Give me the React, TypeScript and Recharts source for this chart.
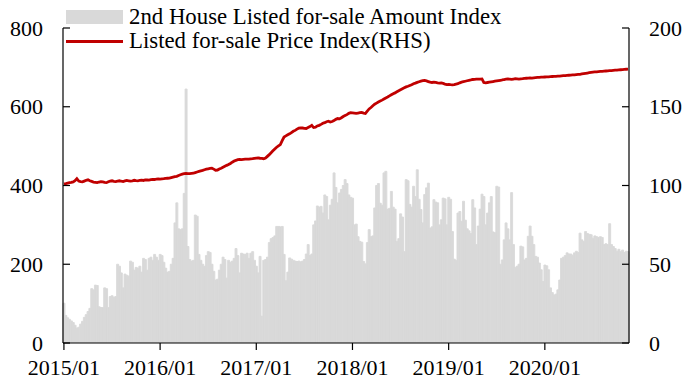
import React from "react";
import { ComposedChart, Bar, Line, XAxis, YAxis, Legend } from "recharts";

const yearTicks = ["2015/01", "2016/01", "2017/01", "2018/01", "2019/01", "2020/01"];
const legendLabels = ["2nd House Listed for-sale Amount Index", "Listed for-sale Price Index(RHS)"];

// weekly 2nd-house listed for-sale amount index (LHS)
const amount2015 = [101,70,64,60,56,52,45,38,40,48,55,65,72,80,88,138,135,147,146,92,90,90,140,138,90,118,120,116,118,200,195,178,140,175,172,170,208,205,185,192,190,195,180,215,212,185,215,218,210,225,218,210];
const amount2016 = [225,222,205,190,180,182,200,215,305,356,290,288,290,380,645,245,212,208,210,325,322,225,210,200,195,222,232,230,200,182,160,162,185,200,218,212,165,210,205,208,215,240,222,178,228,226,225,228,215,228,232,210];
const amount2017 = [195,178,220,68,210,212,218,255,265,268,272,296,296,295,296,225,158,180,216,213,210,208,207,208,206,208,212,226,250,222,226,300,310,348,345,347,330,376,372,313,350,365,432,395,356,381,390,400,415,405,376,370];
const amount2018 = [368,300,302,270,258,256,207,201,255,288,270,272,343,400,405,355,350,432,436,340,342,385,345,340,258,265,328,320,232,415,412,352,345,398,372,440,365,339,305,377,394,406,292,295,364,358,356,300,313,368,366,300];
const amount2019 = [370,365,283,213,210,330,334,309,360,312,290,285,278,364,343,250,297,340,378,372,300,330,356,372,282,280,398,396,200,211,262,305,290,262,382,250,192,195,200,246,244,211,215,271,297,271,250,220,218,203,186,156];
const amount2020 = [198,196,186,140,128,122,124,135,160,215,218,222,229,226,226,223,229,233,230,279,262,258,283,278,276,275,266,272,270,268,270,268,250,252,250,303,250,245,240,233,238,232,236,230,233,232];

// weekly listed for-sale price index (RHS)
const price2015 = [101.0,101.2,101.5,101.8,102.0,102.3,103.0,104.3,102.8,102.5,102.3,102.8,103.3,103.6,103.0,102.6,102.2,102.0,101.8,102.2,102.5,102.3,102.0,101.8,102.4,102.8,103.0,102.6,102.5,102.8,103.0,102.7,102.5,102.9,103.2,103.0,102.8,103.0,103.3,103.1,103.0,103.2,103.4,103.2,103.5,103.6,103.4,103.7,103.9,103.8,104.0,104.2];
const price2016 = [104.1,104.2,104.3,104.5,104.6,104.7,105.0,105.3,105.6,105.8,106.3,106.8,107.2,107.5,107.6,107.5,107.6,107.7,107.8,108.2,108.6,109.0,109.3,109.6,110.0,110.4,110.6,110.8,111.0,110.4,109.7,109.8,110.5,111.0,111.6,112.2,112.8,113.3,114.0,114.8,115.5,116.0,116.4,116.5,116.4,116.6,116.7,116.8,116.7,116.9,117.0,117.2];
const price2017 = [117.4,117.5,117.3,117.2,117.0,117.4,118.5,119.6,120.8,122.0,123.2,124.3,125.2,126.0,128.5,130.8,131.5,132.2,132.8,133.6,134.4,135.0,135.8,136.4,136.6,136.5,136.3,136.2,136.8,137.4,138.2,136.8,137.0,137.8,138.2,138.8,139.5,139.9,140.5,140.8,140.3,140.6,141.2,142.0,142.5,142.3,143.0,143.8,144.4,145.0,145.8,146.2];
const price2018 = [146.1,146.0,145.8,146.0,146.2,146.4,146.0,145.8,147.2,148.6,149.5,150.6,151.6,152.3,153.0,153.6,154.2,154.9,155.6,156.2,156.9,157.6,158.3,158.8,159.5,160.2,160.8,161.4,162.0,162.6,163.0,163.5,164.0,164.6,165.0,165.5,165.9,166.3,166.6,166.7,166.4,166.0,165.6,165.4,165.6,165.5,165.2,165.0,165.1,164.8,164.4,164.1];
const price2019 = [164.2,164.0,163.9,164.1,164.4,164.6,165.2,165.6,165.9,166.2,166.5,166.8,167.0,167.3,167.4,167.5,167.6,167.6,167.7,165.4,165.2,165.4,165.6,165.8,166.0,166.2,166.4,166.6,166.8,167.0,167.3,167.5,167.6,167.5,167.4,167.6,167.8,167.7,167.6,167.7,167.8,168.0,168.1,168.2,168.3,168.2,168.4,168.5,168.6,168.7,168.8,168.8];
const price2020 = [168.9,169.0,169.0,169.1,169.2,169.3,169.3,169.4,169.5,169.6,169.7,169.8,169.9,170.0,170.1,170.2,170.3,170.4,170.5,170.6,170.8,171.0,171.2,171.4,171.6,171.8,172.0,172.1,172.2,172.3,172.4,172.5,172.6,172.7,172.8,172.9,173.0,173.1,173.2,173.3,173.4,173.5,173.6,173.7,173.8,173.9];

const amounts = [...amount2015, ...amount2016, ...amount2017, ...amount2018, ...amount2019, ...amount2020];
const prices = [...price2015, ...price2016, ...price2017, ...price2018, ...price2019, ...price2020];
const data = amounts.map((a, i) => ({ w: i, amount: a, price: prices[i] }));
const xTicks = yearTicks.map((_, i) => i * 52);

const FONT = "'Liberation Serif', 'Times New Roman', serif";
const GRAY = "#d9d9d9";
const RED = "#c00000";

const LeftTick = (props: any) => {
  const { x, y, payload } = props;
  return (
    <g>
      <line x1={x + 20} x2={x + 27} y1={y} y2={y} stroke="#000" strokeWidth={1.2} />
      <text x={x} y={y} dy={7.5} textAnchor="end" fontSize={22} fill="#000" fontFamily={FONT}>
        {payload.value}
      </text>
    </g>
  );
};

const RightTick = (props: any) => {
  const { x, y, payload } = props;
  return (
    <g>
      <line x1={x - 20} x2={x - 27} y1={y} y2={y} stroke="#000" strokeWidth={1.2} />
      <text x={x} y={y} dy={7.5} textAnchor="start" fontSize={22} fill="#000" fontFamily={FONT}>
        {payload.value}
      </text>
    </g>
  );
};

const renderLegend = () => (
  <svg width={696} height={56} style={{ display: "block" }}>
    <rect x={66} y={10} width={57} height={14} fill={GRAY} />
    <text x={129} y={24} fontSize={22.8} fill="#000" fontFamily={FONT}>{legendLabels[0]}</text>
    <line x1={66} x2={123} y1={41.5} y2={41.5} stroke={RED} strokeWidth={3} />
    <text x={129} y={48} fontSize={22.8} fill="#000" fontFamily={FONT}>{legendLabels[1]}</text>
  </svg>
);

export default function App() {
  return (
    <div style={{ position: "absolute", left: 0, top: 0, width: 696, height: 388, background: "#fff" }}>
      <ComposedChart
        width={696}
        height={388}
        data={data}
        margin={{ top: 28, right: 0, bottom: 0, left: 0 }}
        barCategoryGap={0}
        barGap={0}
        style={{ fontFamily: FONT }}
      >
        <XAxis
          dataKey="w"
          type="category"
          ticks={xTicks}
          interval={0}
          tickFormatter={(v: number) => yearTicks[xTicks.indexOf(v)] ?? ""}
          height={45}
          tickSize={7}
          tickMargin={9}
          axisLine={{ stroke: "#000", strokeWidth: 1.2 }}
          tickLine={{ stroke: "#000", strokeWidth: 1.2 }}
          tick={{ fill: "#000", fontSize: 22, fontFamily: FONT }}
        />
        <YAxis
          yAxisId="left"
          orientation="left"
          domain={[0, 800]}
          ticks={[0, 200, 400, 600, 800]}
          width={63}
          tickSize={0}
          tickMargin={20}
          tickLine={false}
          axisLine={{ stroke: "#000", strokeWidth: 1.2 }}
          tick={<LeftTick />}
          allowDataOverflow
        />
        <YAxis
          yAxisId="right"
          orientation="right"
          domain={[0, 200]}
          ticks={[0, 50, 100, 150, 200]}
          width={67}
          tickSize={0}
          tickMargin={20}
          tickLine={false}
          axisLine={{ stroke: "#000", strokeWidth: 1.2 }}
          tick={<RightTick />}
          allowDataOverflow
        />
        <Legend
          layout="vertical"
          align="center"
          verticalAlign="middle"
          wrapperStyle={{ top: 0, left: 0, width: 696, height: 56 }}
          content={renderLegend}
        />
        <Bar yAxisId="left" dataKey="amount" fill={GRAY} stroke={GRAY} strokeWidth={0.9} isAnimationActive={false} />
        <Line
          yAxisId="right"
          dataKey="price"
          type="linear"
          stroke={RED}
          strokeWidth={2.8}
          dot={false}
          activeDot={false}
          isAnimationActive={false}
        />
      </ComposedChart>
    </div>
  );
}
